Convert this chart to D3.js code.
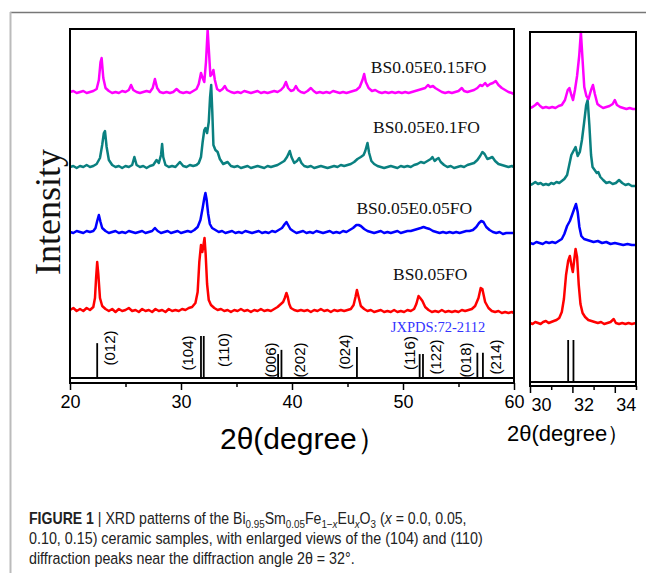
<!DOCTYPE html>
<html>
<head>
<meta charset="utf-8">
<script src="https://cdn.jsdelivr.net/npm/d3@7"></script>
<style>
  body { margin: 0; background: #fff; }
  svg text { font-family: 'Liberation Sans', Arial, sans-serif; }
  .serif { font-family: 'Liberation Serif', 'Times New Roman', serif !important; }
</style>
</head>
<body>
<svg id="chart" width="646" height="573"></svg>
<script>
// ---- data (2theta in degrees, intensity in a.u. above each pattern's own baseline) ----
var sampleNames = ["BS0.05FO", "BS0.05E0.05FO", "BS0.05E0.1FO", "BS0.05E0.15FO"];
var sampleColors = ["#ff0000", "#0000ff", "#0a8080", "#ff00ff"];
var mainOffsets = [73, 151, 216, 291];
var zoomOffsets = [63, 143, 201, 278];

var redMain = [[20,0],[20.3,2],[20.6,-1],[20.9,1],[21.2,-1],[21.5,2],[21.8,0],[22.1,3],[22.25,12],[22.35,32],[22.45,48],[22.55,36],[22.7,12],[22.9,4],[23.2,1],[23.5,-1],[23.8,1],[24.1,-2],[24.4,1],[24.7,-1],[25.0,0],[25.3,2],[25.6,-1],[25.9,0],[26.2,-2],[26.5,1],[26.8,-1],[27.1,0],[27.4,-2],[27.7,1],[28.0,-1],[28.3,0],[28.6,-2],[28.9,1],[29.2,-1],[29.5,0],[29.8,-1],[30.1,1],[30.4,0],[30.7,2],[31.0,3],[31.3,7],[31.5,18],[31.65,48],[31.8,65],[31.92,58],[32.0,63],[32.12,72],[32.22,56],[32.35,26],[32.5,10],[32.7,5],[33.0,2],[33.3,0],[33.6,1],[33.9,-1],[34.2,0],[34.5,-2],[34.8,0],[35.1,-1],[35.4,1],[35.7,-1],[36.0,0],[36.3,-2],[36.6,0],[36.9,-1],[37.2,1],[37.5,-1],[37.8,0],[38.1,-1],[38.4,1],[38.7,3],[39.0,6],[39.2,8],[39.35,12],[39.5,17],[39.62,13],[39.75,6],[39.9,2],[40.2,0],[40.5,-1],[40.8,0],[41.1,-1],[41.4,0],[41.7,-2],[42.0,0],[42.3,-1],[42.6,1],[42.9,-1],[43.2,0],[43.5,-2],[43.8,0],[44.1,-1],[44.4,0],[44.7,-1],[45.0,0],[45.3,1],[45.55,5],[45.72,13],[45.85,20],[46.0,13],[46.2,4],[46.5,1],[46.8,-1],[47.1,0],[47.4,-2],[47.7,-1],[48.0,0],[48.3,-2],[48.6,-1],[48.9,-2],[49.2,0],[49.5,-2],[49.8,-1],[50.1,-2],[50.4,0],[50.7,-1],[51.0,1],[51.2,6],[51.4,14],[51.55,12],[51.75,9],[52.0,3],[52.3,0],[52.6,-2],[52.9,-1],[53.2,-2],[53.5,0],[53.8,-2],[54.1,-1],[54.4,-2],[54.7,-1],[55.0,-2],[55.3,0],[55.6,-1],[55.9,0],[56.2,1],[56.5,4],[56.8,12],[57.0,22],[57.15,21],[57.4,8],[57.7,2],[58.0,-1],[58.3,-2],[58.6,-1],[58.9,-3],[59.2,-2],[59.5,-3],[59.8,-2],[60,-3]];

var blueMain = [[20,0],[20.3,-1],[20.6,1],[20.9,0],[21.2,-1],[21.5,1],[21.8,0],[22.1,1],[22.3,4],[22.45,11],[22.6,17],[22.75,10],[22.9,4],[23.2,1],[23.5,-1],[23.8,0],[24.1,1],[24.4,-1],[24.7,0],[25.0,-1],[25.3,1],[25.6,0],[25.9,-1],[26.2,0],[26.5,1],[26.8,-1],[27.1,0],[27.4,1],[27.65,4],[27.9,1],[28.2,-1],[28.5,0],[28.8,1],[29.1,-1],[29.4,0],[29.7,1],[30.0,-1],[30.3,0],[30.6,1],[30.9,0],[31.2,2],[31.5,5],[31.75,12],[31.95,24],[32.1,34],[32.2,39],[32.3,33],[32.45,18],[32.6,8],[32.8,4],[33.1,2],[33.4,0],[33.7,1],[34.0,-1],[34.3,0],[34.6,1],[34.9,-1],[35.2,0],[35.5,-1],[35.8,1],[36.1,0],[36.4,-1],[36.7,0],[37.0,1],[37.3,-1],[37.6,0],[37.9,-1],[38.2,1],[38.5,0],[38.8,2],[39.1,4],[39.35,8],[39.5,10],[39.65,7],[39.85,3],[40.1,1],[40.4,-1],[40.7,0],[41.0,1],[41.3,-1],[41.6,0],[41.9,-1],[42.2,1],[42.5,0],[42.8,-1],[43.1,0],[43.4,1],[43.7,-1],[44.0,0],[44.3,-1],[44.6,1],[44.9,0],[45.2,2],[45.5,4],[45.8,7],[46.0,7],[46.2,6],[46.5,3],[46.8,1],[47.1,0],[47.4,-1],[47.7,0],[48.0,1],[48.3,-1],[48.6,0],[48.9,-1],[49.2,0],[49.5,1],[49.8,-1],[50.1,0],[50.4,1],[50.7,1],[51.0,2],[51.3,3],[51.6,4],[51.85,5],[52.1,4],[52.4,3],[52.7,1],[53.0,0],[53.3,-1],[53.6,0],[53.9,-1],[54.2,0],[54.5,-1],[54.8,0],[55.1,-1],[55.4,0],[55.7,1],[56.0,1],[56.3,2],[56.6,5],[56.85,9],[57.05,11],[57.25,10],[57.5,5],[57.8,2],[58.1,0],[58.4,-1],[58.7,0],[59.0,-2],[59.3,-1],[59.6,-1],[60,-1]];

var tealMain = [[20,0],[20.3,1],[20.6,-1],[20.9,1],[21.2,0],[21.5,2],[21.8,0],[22.1,1],[22.4,3],[22.7,9],[22.9,22],[23.05,34],[23.15,36],[23.3,20],[23.5,7],[23.8,2],[24.1,0],[24.4,1],[24.7,-1],[25.0,1],[25.3,0],[25.6,2],[25.8,10],[26.0,2],[26.3,0],[26.6,1],[26.9,-1],[27.2,1],[27.5,2],[27.8,7],[28.0,4],[28.2,12],[28.3,23],[28.4,10],[28.6,2],[28.9,0],[29.2,1],[29.5,0],[29.9,5],[30.2,1],[30.5,0],[30.8,2],[31.1,1],[31.4,2],[31.6,4],[31.8,10],[31.95,25],[32.1,37],[32.2,39],[32.35,34],[32.5,45],[32.62,70],[32.72,82],[32.82,55],[32.92,22],[33.1,17],[33.3,15],[33.5,8],[33.8,3],[34.2,5],[34.5,1],[34.8,0],[35.1,1],[35.4,-1],[35.7,0],[36.0,1],[36.3,-1],[36.6,0],[36.9,1],[37.2,0],[37.5,-1],[37.8,1],[38.1,0],[38.4,1],[38.7,2],[39.0,4],[39.3,6],[39.55,10],[39.8,16],[39.95,10],[40.2,4],[40.45,6],[40.65,9],[40.85,4],[41.1,1],[41.4,0],[41.7,1],[42.0,-1],[42.3,0],[42.6,1],[42.9,0],[43.2,-1],[43.5,0],[43.8,1],[44.1,0],[44.4,2],[44.7,1],[45.0,2],[45.3,3],[45.6,5],[45.9,8],[46.2,10],[46.45,12],[46.6,16],[46.8,24],[46.95,14],[47.15,6],[47.4,3],[47.7,1],[48.0,0],[48.3,-1],[48.6,0],[48.9,1],[49.2,0],[49.5,-1],[49.8,1],[50.1,0],[50.4,1],[50.7,0],[51.0,2],[51.3,3],[51.6,5],[51.9,4],[52.2,6],[52.5,8],[52.65,10],[52.85,6],[53.05,8],[53.2,9],[53.4,5],[53.7,2],[54.0,0],[54.3,1],[54.6,-1],[54.9,0],[55.2,1],[55.5,0],[55.8,2],[56.1,3],[56.4,4],[56.7,7],[56.95,11],[57.15,15],[57.35,13],[57.6,8],[57.85,9],[58.05,10],[58.3,6],[58.6,3],[58.9,2],[59.2,1],[59.5,0],[59.8,1],[60,0]];

var magentaMain = [[20,0],[20.3,1],[20.6,-1],[20.9,0],[21.2,1],[21.5,-1],[21.8,0],[22.1,1],[22.4,3],[22.6,12],[22.75,30],[22.85,34],[23.0,14],[23.2,4],[23.5,1],[23.8,-1],[24.1,0],[24.4,-1],[24.7,1],[25.0,0],[25.3,2],[25.5,7],[25.7,2],[26.0,0],[26.3,-1],[26.6,0],[26.9,1],[27.2,0],[27.45,4],[27.65,13],[27.85,4],[28.1,0],[28.4,-1],[28.7,0],[29.0,-1],[29.3,0],[29.6,3],[29.9,0],[30.2,-1],[30.5,0],[30.8,-1],[31.1,1],[31.4,3],[31.6,8],[31.8,19],[31.95,14],[32.1,10],[32.25,30],[32.4,62],[32.52,40],[32.65,16],[32.8,18],[32.92,22],[33.05,12],[33.25,3],[33.5,1],[33.75,3],[33.95,6],[34.15,2],[34.5,0],[34.8,-1],[35.1,0],[35.4,-1],[35.7,1],[36.0,0],[36.3,-1],[36.6,0],[36.9,1],[37.2,-1],[37.5,0],[37.8,-1],[38.1,0],[38.4,1],[38.7,0],[39.0,2],[39.25,5],[39.45,10],[39.65,4],[39.9,1],[40.15,2],[40.35,6],[40.55,2],[40.8,0],[41.1,-1],[41.4,1],[41.7,4],[41.95,1],[42.2,-1],[42.5,0],[42.8,-1],[43.1,0],[43.4,-1],[43.7,1],[44.0,0],[44.3,-1],[44.6,0],[44.9,-1],[45.2,0],[45.5,1],[45.8,2],[46.1,5],[46.35,12],[46.5,18],[46.65,10],[46.9,4],[47.2,1],[47.5,2],[47.8,0],[48.1,-1],[48.4,0],[48.7,-1],[49.0,0],[49.3,-1],[49.6,0],[49.9,-1],[50.2,0],[50.5,-1],[50.8,0],[51.1,1],[51.4,2],[51.7,3],[52.0,4],[52.25,7],[52.45,5],[52.7,6],[52.9,4],[53.2,2],[53.5,0],[53.8,-1],[54.1,0],[54.4,-1],[54.7,0],[55.0,1],[55.3,4],[55.5,1],[55.8,0],[56.1,1],[56.4,2],[56.7,4],[56.95,7],[57.15,6],[57.4,9],[57.6,6],[57.85,8],[58.1,9],[58.35,11],[58.6,7],[58.9,4],[59.2,2],[59.5,0],[59.8,-1],[60,-2]];

// enlarged region 30-35 degrees
var redZoom = [[30,0],[30.12,-1],[30.25,1],[30.38,0],[30.5,-1],[30.62,1],[30.75,2],[30.88,0],[31.0,1],[31.12,2],[31.25,3],[31.38,5],[31.5,11],[31.6,24],[31.7,48],[31.8,62],[31.88,67],[31.95,58],[32.02,51],[32.08,62],[32.15,74],[32.22,66],[32.3,38],[32.38,19],[32.48,10],[32.6,6],[32.75,3],[32.9,2],[33.05,1],[33.2,0],[33.35,1],[33.5,-1],[33.65,0],[33.8,1],[33.95,4],[34.05,0],[34.2,-1],[34.35,0],[34.5,-1],[34.65,0],[34.8,-1],[35,0]];
var blueZoom = [[30,0],[30.15,-1],[30.3,1],[30.45,0],[30.6,-1],[30.75,1],[30.9,0],[31.05,1],[31.2,0],[31.35,2],[31.5,4],[31.62,9],[31.75,17],[31.88,22],[32.0,29],[32.1,35],[32.17,39],[32.25,31],[32.33,16],[32.42,7],[32.55,4],[32.7,3],[32.85,2],[33.0,1],[33.2,2],[33.4,0],[33.6,1],[33.8,-1],[34.0,0],[34.2,-1],[34.4,-2],[34.6,-1],[34.8,-2],[35,-2]];
var tealZoom = [[30,0],[30.12,1],[30.25,3],[30.38,1],[30.5,2],[30.62,0],[30.75,1],[30.88,0],[31.0,2],[31.12,1],[31.25,3],[31.38,2],[31.5,4],[31.62,6],[31.75,10],[31.85,20],[31.95,30],[32.05,34],[32.15,38],[32.25,29],[32.35,33],[32.45,45],[32.55,62],[32.65,80],[32.72,85],[32.8,60],[32.88,30],[32.95,18],[33.05,15],[33.15,12],[33.22,13],[33.32,8],[33.45,5],[33.6,2],[33.75,3],[33.9,1],[34.05,2],[34.2,5],[34.35,2],[34.5,0],[34.65,1],[34.8,-1],[35,-1]];
var magentaZoom = [[30,0],[30.12,1],[30.25,3],[30.35,5],[30.48,2],[30.6,0],[30.75,1],[30.9,0],[31.05,1],[31.2,0],[31.35,2],[31.5,3],[31.65,8],[31.78,18],[31.86,20],[31.95,13],[32.03,8],[32.12,18],[32.22,32],[32.32,52],[32.4,76],[32.48,48],[32.56,21],[32.66,12],[32.76,9],[32.88,18],[32.97,23],[33.06,14],[33.18,4],[33.3,2],[33.45,0],[33.6,1],[33.75,2],[33.9,4],[34.0,8],[34.1,3],[34.25,1],[34.4,0],[34.55,-1],[34.7,0],[34.85,-1],[35,-1]];

// JCPDS reference lines
var refHkl = ["(012)", "(104)", "(110)", "(006)", "(202)", "(024)", "(116)", "(122)", "(018)", "(214)"];
var refAngle = [22.45, 31.8, 32.05, 38.75, 39.05, 45.85, 51.5, 51.8, 56.7, 57.2];
var refIntensity = [83, 100, 100, 57, 67, 74, 57, 57, 60, 60];

var mainTicks = [20, 30, 40, 50, 60];
var mainMinorTicks = [25, 35, 45, 55];
var zoomTicks = [30, 32, 34];
var zoomMinorTicks = [31, 33, 35];

var mainSeries = [redMain, blueMain, tealMain, magentaMain];
var zoomSeries = [redZoom, blueZoom, tealZoom, magentaZoom];

/* ---- setup ---- */
var svg = d3.select("#chart");
svg.append("rect").attr("width", 646).attr("height", 573).attr("fill", "#fff");

// grey page frame
svg.append("line").attr("x1", 10).attr("x2", 646).attr("y1", 12.5).attr("y2", 12.5)
   .attr("stroke", "#777").attr("stroke-width", 1.5);
svg.append("line").attr("x1", 10.5).attr("x2", 10.5).attr("y1", 12).attr("y2", 573)
   .attr("stroke", "#bbb").attr("stroke-width", 2);

var x = d3.scaleLinear().domain([20, 60]).range([70, 514]);
var y = d3.scaleLinear().domain([0, 354]).range([383, 29]);
var yStick = d3.scaleLinear().domain([0, 100]).range([378, 336]);

var xz = d3.scaleLinear().domain([30, 35]).range([530, 636]);
var yz = d3.scaleLinear().domain([0, 354]).range([386, 32]);
var yzStick = d3.scaleLinear().domain([0, 100]).range([382, 340]);

function drawPanel(g, xs, ys, ysStick, series, offsets, ticks, minor, labelDx) {
  var line = d3.line();
  series.forEach(function(s, i) {
    g.append("path")
      .datum(s)
      .attr("fill", "none")
      .attr("stroke", sampleColors[i])
      .attr("stroke-width", 2.5)
      .attr("stroke-linejoin", "round")
      .attr("d", line.x(function(d){ return xs(d[0]); })
                     .y(function(d){ return ys(offsets[i] + d[1]); }));
  });

  // reference sticks
  var sticks = refAngle.map(function(a, i){ return {a: a, h: refIntensity[i]}; })
                       .filter(function(d){ return d.a >= xs.domain()[0] && d.a <= xs.domain()[1]; });
  g.selectAll("line.stick").data(sticks).enter().append("line")
    .attr("class", "stick")
    .attr("x1", function(d){ return xs(d.a); }).attr("x2", function(d){ return xs(d.a); })
    .attr("y1", ysStick(0)).attr("y2", function(d){ return ysStick(d.h); })
    .attr("stroke", "#000").attr("stroke-width", 1.8);
  g.append("line")
    .attr("x1", xs.range()[0]).attr("x2", xs.range()[1])
    .attr("y1", ysStick(0)).attr("y2", ysStick(0))
    .attr("stroke", "#000").attr("stroke-width", 2);

  // frame
  g.append("rect")
    .attr("x", xs.range()[0]).attr("y", ys.range()[1])
    .attr("width", xs.range()[1] - xs.range()[0])
    .attr("height", ys.range()[0] - ys.range()[1])
    .attr("fill", "none").attr("stroke", "#000").attr("stroke-width", 2);

  // x axis
  var ax = g.append("g").attr("transform", "translate(0," + ys.range()[0] + ")");
  ax.call(d3.axisBottom(xs).tickValues(ticks).tickSize(7).tickSizeOuter(0).tickPadding(5)
            .tickFormat(d3.format("d")))
    .call(function(a){ a.select(".domain").remove(); });
  ax.selectAll(".tick line").attr("stroke-width", 1.5);
  ax.selectAll(".tick text").attr("font-size", 18).attr("fill", "#000")
    .attr("font-family", "'Liberation Sans', Arial, sans-serif")
    .attr("dx", labelDx);
  var axm = g.append("g").attr("transform", "translate(0," + ys.range()[0] + ")");
  axm.call(d3.axisBottom(xs).tickValues(minor).tickSize(4).tickSizeOuter(0).tickFormat(""))
     .call(function(a){ a.select(".domain").remove(); });
  axm.selectAll(".tick line").attr("stroke-width", 1.5);
}

var mainG = svg.append("g");
drawPanel(mainG, x, y, yStick, mainSeries, mainOffsets, mainTicks, mainMinorTicks, 0);
var zoomG = svg.append("g");
drawPanel(zoomG, xz, yz, yzStick, zoomSeries, zoomOffsets, zoomTicks, zoomMinorTicks, 11);

// hkl labels (rotated)
var hklPos = {
  "(012)": [12, 348], "(104)": [-13, 353], "(110)": [20, 350], "(006)": [-8, 360], "(202)": [18, 360],
  "(024)": [-12, 352], "(116)": [-10, 353], "(122)": [13, 357], "(018)": [-12, 360], "(214)": [13, 357]
};
mainG.selectAll("text.hkl").data(refHkl).enter().append("text")
  .attr("class", "hkl")
  .attr("transform", function(d, i){
     return "translate(" + (x(refAngle[i]) + hklPos[d][0]) + "," + hklPos[d][1] + ") rotate(-90)";
  })
  .attr("text-anchor", "middle").attr("dominant-baseline", "central")
  .attr("font-size", 15).attr("fill", "#000")
  .text(function(d){ return d; });

// sample labels
var nameX = [49.1, 45.8, 47.3, 47.1];
var nameY = [280, 214, 133, 73];
mainG.selectAll("text.name").data(sampleNames).enter().append("text")
  .attr("class", "serif")
  .attr("x", function(d, i){ return x(nameX[i]); })
  .attr("y", function(d, i){ return nameY[i]; })
  .attr("font-size", 17.5).attr("fill", "#111")
  .text(function(d){ return d; });

mainG.append("text").attr("class", "serif")
  .attr("x", x(48.9)).attr("y", 332)
  .attr("font-size", 14.5).attr("fill", "#3333ff")
  .text("JXPDS:72-2112");

// axis titles
svg.append("text").attr("class", "serif")
  .attr("transform", "translate(60,212) rotate(-90)")
  .attr("text-anchor", "middle").attr("font-size", 36).attr("fill", "#111")
  .text("Intensity");
svg.append("text")
  .attr("x", 220).attr("y", 449).attr("font-size", 30).attr("fill", "#000")
  .text("2θ(degree）");
svg.append("text")
  .attr("x", 507).attr("y", 441).attr("font-size", 22).attr("fill", "#000")
  .text("2θ(degree）");

// caption: condensed by scaling each line to the reference width
var cap = svg.append("g").attr("font-size", 16.5).attr("fill", "#222");
function capLine(yPos, width) {
  var t = cap.append("text").attr("x", 0).attr("y", 0);
  t.fit = function() {
    var w = t.node().getComputedTextLength();
    t.attr("transform", "translate(29," + yPos + ") scale(" + (width / w) + ",1)");
  };
  return t;
}
var l1 = capLine(524, 438);
l1.append("tspan").attr("font-weight", "bold").text("FIGURE 1");
l1.append("tspan").text(" | XRD patterns of the Bi");
l1.append("tspan").attr("font-size", 11.5).attr("dy", 4).text("0.95");
l1.append("tspan").attr("dy", -4).text("Sm");
l1.append("tspan").attr("font-size", 11.5).attr("dy", 4).text("0.05");
l1.append("tspan").attr("dy", -4).text("Fe");
l1.append("tspan").attr("font-size", 11.5).attr("dy", 4).text("1−");
l1.append("tspan").attr("font-size", 11.5).attr("font-style", "italic").text("x");
l1.append("tspan").attr("dy", -4).text("Eu");
l1.append("tspan").attr("font-size", 11.5).attr("font-style", "italic").attr("dy", 4).text("x");
l1.append("tspan").attr("dy", -4).text("O");
l1.append("tspan").attr("font-size", 11.5).attr("dy", 4).text("3");
l1.append("tspan").attr("dy", -4).text(" (");
l1.append("tspan").attr("font-style", "italic").text("x");
l1.append("tspan").text(" = 0.0, 0.05,");
l1.fit();

var l2 = capLine(544, 454);
l2.text("0.10, 0.15) ceramic samples, with enlarged views of the (104) and (110)");
l2.fit();
var l3 = capLine(564, 326);
l3.text("diffraction peaks near the diffraction angle 2θ = 32°.");
l3.fit();
</script>
</body>
</html>
